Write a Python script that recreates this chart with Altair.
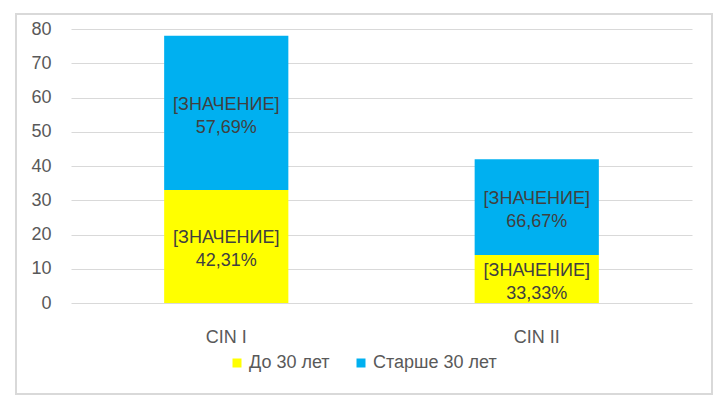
import altair as alt
import pandas as pd

categories = ["CIN I", "CIN II"]
series = ["До 30 лет", "Старше 30 лет"]
under_30 = [33, 14]
over_30 = [45, 28]
under_30_pct = ["42,31%", "33,33%"]
over_30_pct = ["57,69%", "66,67%"]
colors = ["#FFFF00", "#00B0F0"]
y_ticks = [0, 10, 20, 30, 40, 50, 60, 70, 80]

rows = []
for i, c in enumerate(categories):
    rows.append(dict(cat=c, series=series[0], value=under_30[i], pct=under_30_pct[i], order=0))
    rows.append(dict(cat=c, series=series[1], value=over_30[i], pct=over_30_pct[i], order=1))
df = pd.DataFrame(rows)

FONT = "Liberation Sans"
TXT = "#404040"
FS = 18

base = alt.Chart(df).transform_stack(
    stack="value", as_=["y0", "y1"], groupby=["cat"], sort=[alt.SortField("order")]
).transform_calculate(
    mid="(datum.y0 + datum.y1) / 2",
    label="'[ЗНАЧЕНИЕ]\\n' + datum.pct",
)

x_axis = alt.Axis(
    title=None, labelAngle=0, domain=False, ticks=False,
    labelFontSize=FS, labelColor="#595959", labelFont=FONT, labelPadding=25,
)
y_axis = alt.Axis(
    title=None, values=y_ticks, domain=False, ticks=False, labelOverlap=False,
    grid=True, gridColor="#d9d9d9", gridWidth=1,
    labelFontSize=FS, labelColor="#595959", labelFont=FONT, labelPadding=20,
)
x_scale = alt.Scale(paddingInner=0.6, paddingOuter=0.3)
y_scale = alt.Scale(domain=[0, 80], nice=False)

bars = base.mark_bar().encode(
    x=alt.X("cat:N", sort=categories, scale=x_scale, axis=x_axis),
    y=alt.Y("y0:Q", scale=y_scale, axis=y_axis),
    y2="y1:Q",
    color=alt.Color(
        "series:N",
        scale=alt.Scale(domain=series, range=colors),
        legend=alt.Legend(
            title=None, orient="none", direction="horizontal",
            legendX=157, legendY=325,
            symbolType="square", symbolSize=81, symbolStrokeWidth=0,
            labelFontSize=FS, labelColor="#595959", labelFont=FONT,
            labelOffset=3, columnPadding=22,
        ),
    ),
    order=alt.Order("order:Q"),
)

labels = base.mark_text(
    lineBreak="\n", fontSize=FS, font=FONT, color=TXT, baseline="middle",
    align="center", lineHeight=23, dy=-8,
).encode(
    x=alt.X("cat:N", sort=categories, scale=x_scale, axis=x_axis),
    y=alt.Y("mid:Q", scale=y_scale, axis=y_axis),
    text="label:N",
)

frame = alt.Chart(pd.DataFrame({"a": [0]})).mark_rect(
    fill=None, stroke="#d9d9d9", strokeWidth=2
).encode(
    x=alt.value(-55), x2=alt.value(641), y=alt.value(-15), y2=alt.value(365)
)

chart = alt.layer(frame, bars, labels).properties(
    width=621,
    height=274,
    autosize=alt.AutoSizeParams(type="none"),
    padding={"left": 63, "top": 21, "right": 26, "bottom": 96},
    background="white",
).configure_view(stroke=None)

chart.save("out.html", embed_options={"renderer": "svg", "actions": False})
